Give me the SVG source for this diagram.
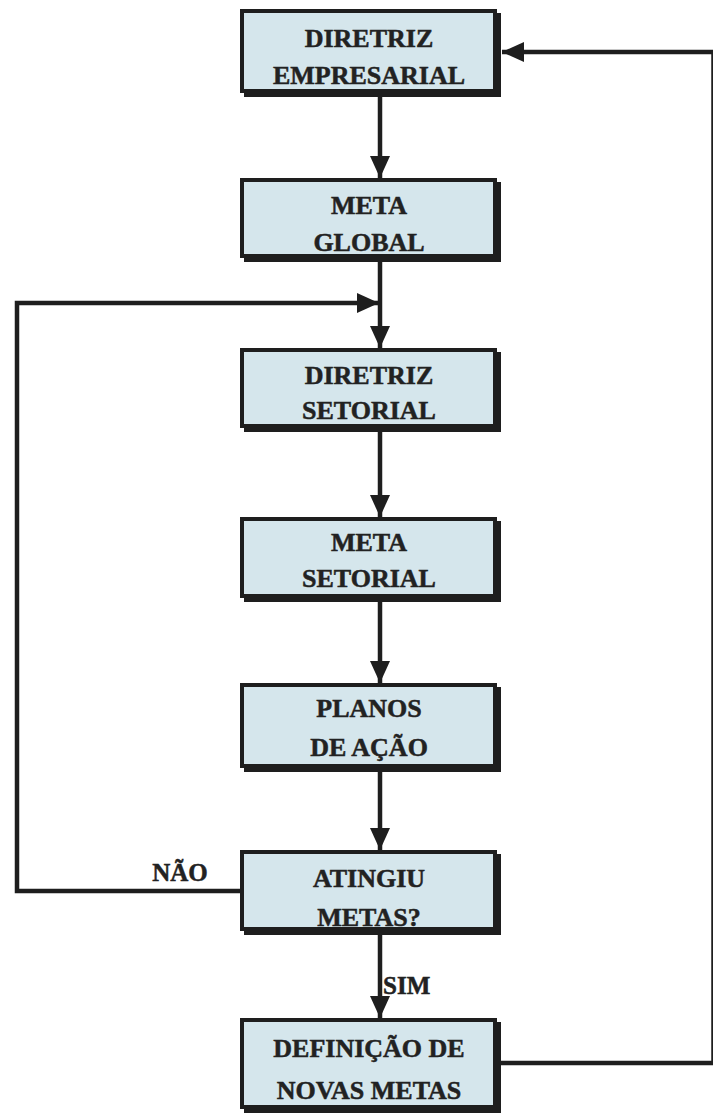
<svg xmlns="http://www.w3.org/2000/svg" width="713" height="1113" viewBox="0 0 713 1113">
  <style>
    .shadow { fill: #1e1e1e; }
    .box { fill: #d5e6ec; stroke: #1e1e1e; stroke-width: 4; }
    .label { font-family: "Liberation Serif", "Times New Roman", serif; font-weight: bold; font-size: 26px; fill: #222; stroke: #222; stroke-width: 0.5; text-anchor: middle; }
    .edge { fill: none; stroke: #1e1e1e; stroke-width: 4.5; }
    .tag { font-family: "Liberation Serif", "Times New Roman", serif; font-weight: bold; font-size: 25px; fill: #222; stroke: #222; stroke-width: 0.5; }
  </style>
  <defs>
    <marker id="arrow" markerUnits="userSpaceOnUse" markerWidth="24" markerHeight="22" refX="22" refY="10" orient="auto">
      <path d="M0,0 L22,10 L0,20 z" fill="#1e1e1e"/>
    </marker>
  </defs>

  <rect width="713" height="1113" fill="#ffffff"/>

  <!-- connectors -->
  <g id="connectors">
    <path class="edge" d="M380,97 V178" marker-end="url(#arrow)"/>
    <path class="edge" d="M380,262 V348" marker-end="url(#arrow)"/>
    <path class="edge" d="M240,891 H17 V303 H379" marker-end="url(#arrow)"/>
    <path class="edge" d="M380,432 V517" marker-end="url(#arrow)"/>
    <path class="edge" d="M380,602 V683" marker-end="url(#arrow)"/>
    <path class="edge" d="M380,772 V850" marker-end="url(#arrow)"/>
    <path class="edge" d="M380,935 V1018" marker-end="url(#arrow)"/>
    <path class="edge" d="M501,1063 H713.5 V52 H502" marker-end="url(#arrow)"/>
    <text class="tag" x="180" y="881" text-anchor="middle">NÃO</text>
    <text class="tag" x="383" y="994">SIM</text>
  </g>

  <!-- nodes -->
  <g id="diretriz-empresarial">
    <rect class="shadow" x="244" y="13" width="257" height="84"/>
    <rect class="box" x="242" y="11" width="253" height="80"/>
    <text class="label" x="369" y="47">DIRETRIZ</text>
    <text class="label" x="369" y="84">EMPRESARIAL</text>
  </g>

  <g id="meta-global">
    <rect class="shadow" x="244" y="182" width="257" height="80"/>
    <rect class="box" x="242" y="180" width="253" height="76"/>
    <text class="label" x="369" y="214">META</text>
    <text class="label" x="369" y="251">GLOBAL</text>
  </g>

  <g id="diretriz-setorial">
    <rect class="shadow" x="244" y="352" width="257" height="80"/>
    <rect class="box" x="242" y="350" width="253" height="76"/>
    <text class="label" x="369" y="384">DIRETRIZ</text>
    <text class="label" x="369" y="419">SETORIAL</text>
  </g>

  <g id="meta-setorial">
    <rect class="shadow" x="244" y="521" width="257" height="81"/>
    <rect class="box" x="242" y="519" width="253" height="77"/>
    <text class="label" x="369" y="551">META</text>
    <text class="label" x="369" y="587">SETORIAL</text>
  </g>

  <g id="planos-de-acao">
    <rect class="shadow" x="244" y="687" width="257" height="85"/>
    <rect class="box" x="242" y="685" width="253" height="81"/>
    <text class="label" x="369" y="717">PLANOS</text>
    <text class="label" x="369" y="756">DE AÇÃO</text>
  </g>

  <g id="atingiu-metas">
    <rect class="shadow" x="244" y="854" width="257" height="81"/>
    <rect class="box" x="242" y="852" width="253" height="77"/>
    <text class="label" x="369" y="887">ATINGIU</text>
    <text class="label" x="369" y="926">METAS?</text>
  </g>

  <g id="novas-metas">
    <rect class="shadow" x="244" y="1022" width="257" height="91"/>
    <rect class="box" x="242" y="1020" width="253" height="87"/>
    <text class="label" x="369" y="1057">DEFINIÇÃO DE</text>
    <text class="label" x="369" y="1099">NOVAS METAS</text>
  </g>
</svg>
